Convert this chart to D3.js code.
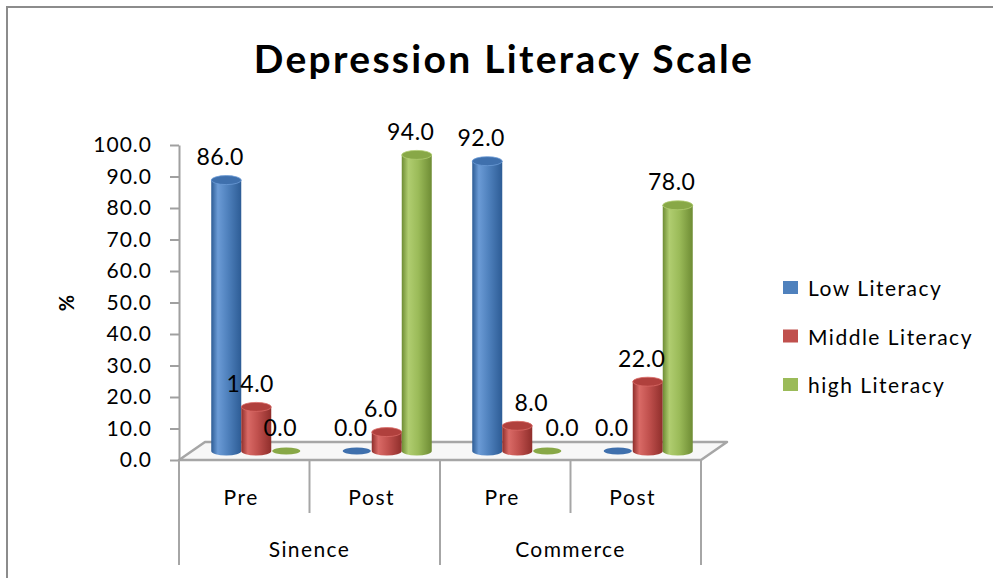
<!DOCTYPE html>
<html>
<head>
<meta charset="utf-8">
<script src="https://cdn.jsdelivr.net/npm/d3@7"></script>
<style>
  body { margin: 0; background: #fff; }
  text { font-family: Lato, "Open Sans", sans-serif; fill: #000; }
</style>
</head>
<body>
<svg id="chart" width="993" height="578"></svg>
<script>
// Data
const groups = ["Sinence", "Commerce"];
const phases = ["Pre", "Post"];
const seriesNames = ["Low Literacy", "Middle Literacy", "high Literacy"];
const lowLiteracy = [86.0, 0.0, 92.0, 0.0];
const middleLiteracy = [14.0, 6.0, 8.0, 22.0];
const highLiteracy = [0.0, 94.0, 0.0, 78.0];
const yTicks = [0, 10, 20, 30, 40, 50, 60, 70, 80, 90, 100];

const seriesValues = [lowLiteracy, middleLiteracy, highLiteracy];
const categories = [];
groups.forEach(g => phases.forEach(p => categories.push({ id: g + "|" + p, group: g, phase: p })));

const palette = {
  "Low Literacy":    { base: "#4F81BD", dark: "#2d5c95", light: "#6b9bd6", top: "#3f70ad" },
  "Middle Literacy": { base: "#C0504D", dark: "#8f2e2b", light: "#d96a66", top: "#b0403d" },
  "high Literacy":   { base: "#9BBB59", dark: "#6e8c34", light: "#b0cd70", top: "#88a847" }
};

// Labels that were dragged sideways to keep them apart
const labelNudge = {
  "Commerce|Pre|Middle Literacy": 20,
  "Commerce|Pre|high Literacy": 21
};

const svg = d3.select("#chart");
const defs = svg.append("defs");

// Chart frame
svg.append("rect")
  .attr("x", 7).attr("y", 7).attr("width", 1000).attr("height", 600)
  .attr("fill", "#fff").attr("stroke", "#8c8c8c").attr("stroke-width", 2);

// Title
svg.append("text")
  .attr("x", 504).attr("y", 73)
  .attr("text-anchor", "middle")
  .style("font-size", "39px").style("font-weight", "bold")
  .style("letter-spacing", "2.3px")
  .text("Depression Literacy Scale");

// Scales
const x = d3.scaleBand().domain(categories.map(c => c.id)).range([179, 701]);
const y = d3.scaleLinear().domain([0, 100]).range([460, 145]);
const sub = d3.scaleBand().domain(seriesNames).range([-45, 45]);

// Depth offsets of the 3D floor
const floorDx = 26, floorDy = -18;
const barDx = 12, barDy = -9;

// Cylinder gradients
seriesNames.forEach((s, i) => {
  const c = palette[s];
  const g = defs.append("linearGradient").attr("id", "cyl" + i)
    .attr("x1", "0%").attr("x2", "100%").attr("y1", "0%").attr("y2", "0%");
  g.append("stop").attr("offset", "0%").attr("stop-color", c.dark);
  g.append("stop").attr("offset", "22%").attr("stop-color", c.light);
  g.append("stop").attr("offset", "55%").attr("stop-color", c.base);
  g.append("stop").attr("offset", "100%").attr("stop-color", c.dark);
});

// Floor
const x0 = x.range()[0], x1 = x.range()[1], yb = y(0);
svg.append("path")
  .attr("d", `M${x0},${yb} L${x0 + floorDx},${yb + floorDy} L${x1 + floorDx},${yb + floorDy} L${x1},${yb} Z`)
  .attr("fill", "#f7f7f7").attr("stroke", "#a6a6a6").attr("stroke-width", 2.5)
  .attr("stroke-linejoin", "round");

// Value axis
const yAxis = svg.append("g")
  .attr("transform", `translate(${x0},0)`)
  .call(d3.axisLeft(y).tickValues(yTicks).tickFormat(d3.format(".1f")).tickSize(9).tickSizeOuter(0).tickPadding(18));
yAxis.select(".domain").attr("stroke", "#a0a0a0").attr("stroke-width", 2);
yAxis.selectAll(".tick line").attr("stroke", "#a0a0a0").attr("stroke-width", 2);
yAxis.selectAll(".tick text")
  .style("font-size", "21px").style("letter-spacing", "1px")
  .style("font-family", "Lato, sans-serif").attr("fill", "#000");

// Axis title
svg.append("text")
  .attr("transform", "translate(74,303) rotate(-90)")
  .attr("text-anchor", "middle")
  .style("font-size", "20px").style("font-weight", "bold")
  .text("%");

// Category axis: boundary ticks
const edges = categories.map(c => x(c.id)).concat([x1]);
edges.forEach((ex, i) => {
  const isGroupEdge = (i % phases.length === 0);
  svg.append("line")
    .attr("x1", ex).attr("x2", ex)
    .attr("y1", yb).attr("y2", isGroupEdge ? 565 : 513)
    .attr("stroke", "#a6a6a6").attr("stroke-width", 2);
});

// Phase labels
svg.selectAll("text.phase").data(categories).join("text")
  .attr("class", "phase")
  .attr("x", d => x(d.id) + x.bandwidth() / 2 - 3)
  .attr("y", 505)
  .attr("text-anchor", "middle")
  .style("font-size", "21px").style("letter-spacing", "1.6px")
  .text(d => d.phase);

// Group labels
svg.selectAll("text.group").data(groups).join("text")
  .attr("class", "group")
  .attr("x", g => {
    const ids = categories.filter(c => c.group === g).map(c => c.id);
    return (x(ids[0]) + x(ids[ids.length - 1]) + x.bandwidth()) / 2;
  })
  .attr("y", 557)
  .attr("text-anchor", "middle")
  .style("font-size", "21px").style("letter-spacing", "1.4px")
  .text(g => g);

// Bars (cylinders)
const rx = sub.bandwidth() / 2, ry = 4.5;
const bars = [];
categories.forEach((c, ci) => {
  seriesNames.forEach((s, si) => {
    const v = seriesValues[si][ci];
    const cx = x(c.id) + x.bandwidth() / 2 + barDx + sub(s) + sub.bandwidth() / 2;
    const nudge = labelNudge[c.id + "|" + s] || 0;
    bars.push({ s, si, v, cx, nudge, yTop: y(v) + barDy, yBase: y(0) + barDy });
  });
});

const barG = svg.append("g");
bars.forEach(b => {
  const c = palette[b.s];
  if (b.v > 0) {
    barG.append("path")
      .attr("d", `M${b.cx - rx},${b.yTop} L${b.cx - rx},${b.yBase} A${rx},${ry} 0 0 0 ${b.cx + rx},${b.yBase} L${b.cx + rx},${b.yTop} Z`)
      .attr("fill", `url(#cyl${b.si})`);
    barG.append("ellipse")
      .attr("cx", b.cx).attr("cy", b.yTop).attr("rx", rx).attr("ry", ry)
      .attr("fill", c.top).attr("stroke", c.light).attr("stroke-width", 0.8);
  } else {
    barG.append("ellipse")
      .attr("cx", b.cx).attr("cy", b.yBase).attr("rx", rx - 1).attr("ry", ry - 1)
      .attr("fill", c.top);
  }
});

// Value labels
svg.selectAll("text.val").data(bars).join("text")
  .attr("class", "val")
  .attr("x", d => d.cx - 6 + d.nudge)
  .attr("y", d => d.yTop - 15)
  .attr("text-anchor", "middle")
  .style("font-size", "23px").style("letter-spacing", "0.5px")
  .text(d => d3.format(".1f")(d.v));

// Legend
const legend = svg.append("g");
seriesNames.forEach((s, i) => {
  const cy = 288 + i * 48.5;
  legend.append("rect")
    .attr("x", 783).attr("y", cy - 7).attr("width", 15).attr("height", 13)
    .attr("fill", palette[s].base);
  legend.append("text")
    .attr("x", 808).attr("y", cy + 8)
    .style("font-size", "21px").style("letter-spacing", "1.5px")
    .text(s);
});
</script>
</body>
</html>
